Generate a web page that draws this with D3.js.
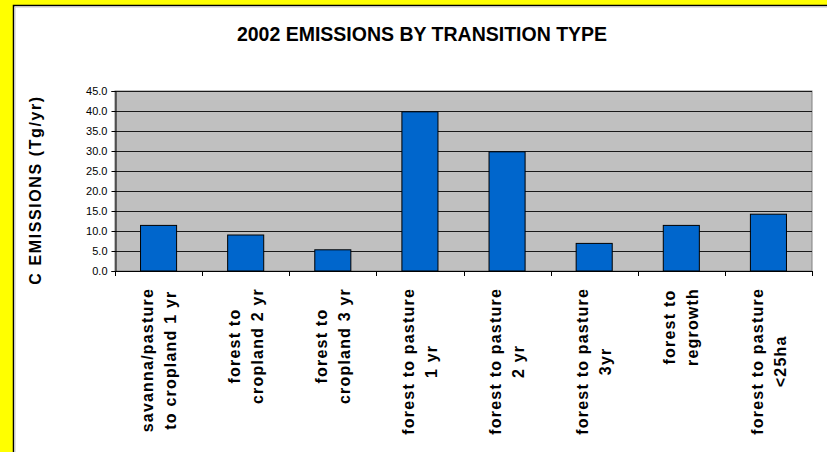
<!DOCTYPE html>
<html>
<head>
<meta charset="utf-8">
<script src="https://cdn.jsdelivr.net/npm/d3@7"></script>
<style>
  html, body { margin: 0; padding: 0; background: #ffff00; }
  svg { display: block; }
  text { font-family: "Liberation Sans", Arial, sans-serif; }
</style>
</head>
<body>
<svg id="chart" width="827" height="452"></svg>
<script>
// Emission sources (each label split into its display lines)
const categories = [
  ["savanna/pasture", "to cropland 1 yr"],
  ["forest to", "cropland 2 yr"],
  ["forest to", "cropland 3 yr"],
  ["forest to pasture", "1 yr"],
  ["forest to pasture", "2 yr"],
  ["forest to pasture", "3yr"],
  ["forest to", "regrowth"],
  ["forest to pasture", "<25ha"]
];
// Carbon emissions, Tg/yr
const emissions = [11.4, 9.0, 5.3, 39.8, 29.8, 6.9, 11.4, 14.2];
const yTicks = [0, 5, 10, 15, 20, 25, 30, 35, 40, 45];

const chartTitle = "2002 EMISSIONS BY TRANSITION TYPE";
const yTitle = "C EMISSIONS (Tg/yr)";

const W = 827, H = 452;
const plot = { left: 115, top: 91, right: 812, bottom: 271 };

const svg = d3.select("#chart");

// White chart panel with dark frame and soft inner shadow
svg.append("rect").attr("x", 13.5).attr("y", 5.5)
  .attr("width", W + 20).attr("height", H + 20)
  .attr("fill", "#ffffff").attr("stroke", "#000").attr("stroke-width", 1.5);
svg.append("line").attr("x1", 15).attr("x2", 15).attr("y1", 7).attr("y2", H)
  .attr("stroke", "#c8c8c8").attr("stroke-width", 1);
svg.append("line").attr("x1", 15).attr("x2", W).attr("y1", 7).attr("y2", 7)
  .attr("stroke", "#c8c8c8").attr("stroke-width", 1);

const keys = categories.map((d, i) => i);
const x = d3.scaleBand().domain(keys)
  .range([plot.left, plot.right])
  .paddingInner(0.586).paddingOuter(0.293);
const y = d3.scaleLinear().domain([0, 45]).range([plot.bottom, plot.top]);

// Plot area
svg.append("rect")
  .attr("x", plot.left).attr("y", plot.top)
  .attr("width", plot.right - plot.left).attr("height", plot.bottom - plot.top)
  .attr("fill", "#c0c0c0").attr("stroke", "#808080").attr("stroke-width", 1);

// Horizontal gridlines
svg.append("g").selectAll("line")
  .data(yTicks.filter(t => t > 0))
  .join("line")
  .attr("x1", plot.left).attr("x2", plot.right)
  .attr("y1", d => Math.round(y(d)) + 0.5).attr("y2", d => Math.round(y(d)) + 0.5)
  .attr("stroke", "#1a1a1a").attr("stroke-width", 1);

// Bars
svg.append("g").selectAll("rect")
  .data(emissions)
  .join("rect")
  .attr("x", (d, i) => x(i))
  .attr("y", d => y(d))
  .attr("width", x.bandwidth())
  .attr("height", d => y(0) - y(d))
  .attr("fill", "#0066cc")
  .attr("stroke", "#000").attr("stroke-width", 1);

// Y axis
const yAxis = d3.axisLeft(y).tickValues(yTicks).tickFormat(d3.format(".1f"))
  .tickSize(4).tickPadding(4);
const gy = svg.append("g").attr("transform", `translate(${plot.left + 0.5},0)`).call(yAxis);
gy.select(".domain").attr("stroke", "#000");
gy.selectAll(".tick line").attr("stroke", "#000");
gy.selectAll(".tick text").attr("font-size", 11).attr("fill", "#000")
  .style("font-family", "'Liberation Sans', Arial, sans-serif");

// X axis line with ticks between categories
const step = x.step();
const boundaries = d3.range(categories.length + 1).map(i => plot.left + i * step);
const gx = svg.append("g");
gx.append("line").attr("x1", plot.left).attr("x2", plot.right)
  .attr("y1", plot.bottom + 0.5).attr("y2", plot.bottom + 0.5)
  .attr("stroke", "#000");
gx.selectAll("line.tk").data(boundaries).join("line").attr("class", "tk")
  .attr("x1", d => Math.round(d) + 0.5).attr("x2", d => Math.round(d) + 0.5)
  .attr("y1", plot.bottom).attr("y2", plot.bottom + 5)
  .attr("stroke", "#000");

// Rotated multi-line category labels
const labFont = 16, labSpacing = 1.2, lineGap = 23, labTop = 288;
const labels = svg.append("g").selectAll("g")
  .data(categories)
  .join("g")
  .attr("transform", (d, i) => `translate(${x(i) + x.bandwidth() / 2},${labTop}) rotate(-90)`);
labels.each(function (lines) {
  const g = d3.select(this);
  const texts = lines.map((line, j) => g.append("text")
    .attr("font-size", labFont).attr("font-weight", "bold")
    .attr("letter-spacing", labSpacing)
    .attr("text-anchor", "middle")
    .attr("y", (j - (lines.length - 1) / 2) * lineGap + 0.35 * labFont)
    .text(line));
  const maxLen = d3.max(texts, t => t.node().getComputedTextLength());
  texts.forEach(t => t.attr("x", -maxLen / 2));
});

// Titles
svg.append("text").attr("x", 422).attr("y", 41)
  .attr("text-anchor", "middle").attr("font-size", 19.5).attr("font-weight", "bold")
  .text(chartTitle);
svg.append("text")
  .attr("transform", "translate(41,190) rotate(-90)")
  .attr("text-anchor", "middle").attr("font-size", 16).attr("font-weight", "bold")
  .attr("letter-spacing", 1.6)
  .text(yTitle);
</script>
</body>
</html>
